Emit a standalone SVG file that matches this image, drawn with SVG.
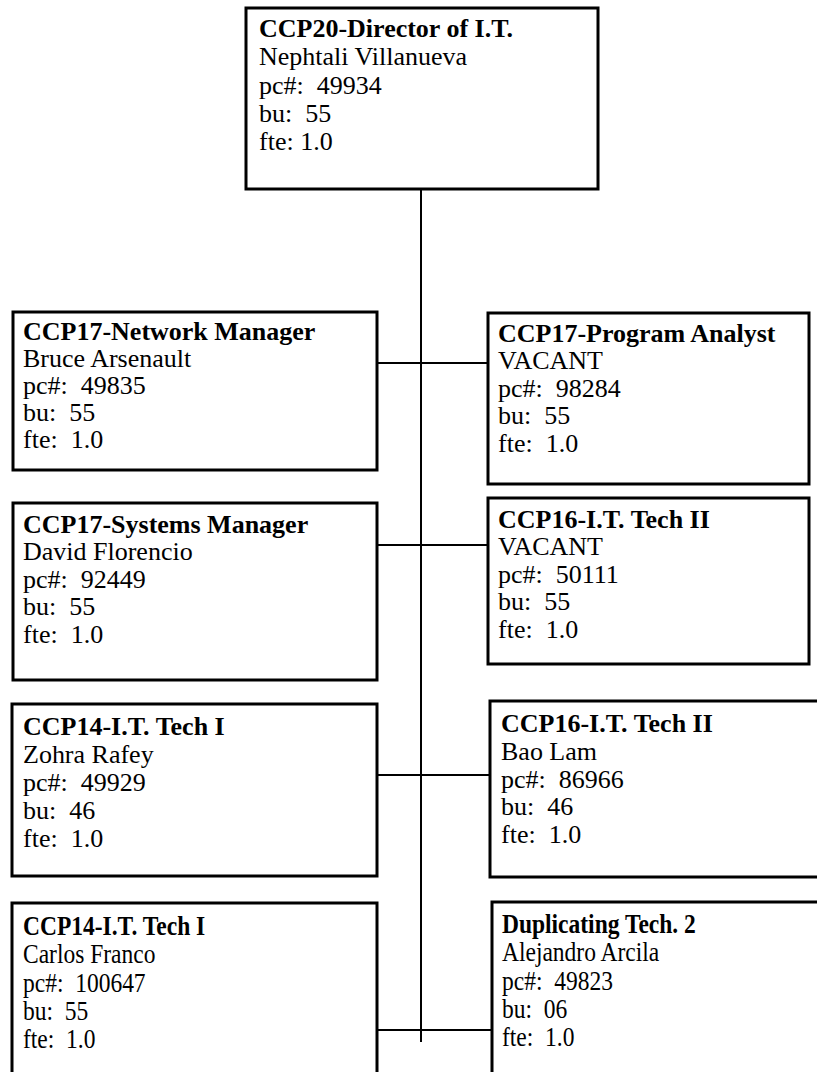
<svg xmlns="http://www.w3.org/2000/svg" width="817" height="1072" viewBox="0 0 817 1072">
<style>
.box{fill:#fff;stroke:#000;stroke-width:3}
.conn{stroke:#000;stroke-width:2;fill:none}
text{font-family:"Liberation Serif","Times New Roman",serif;font-size:25px;fill:#000;white-space:pre}
.t{font-weight:bold}
.tall{font-size:27px}
</style>
<g id="connectors">
<line class="conn" x1="421" y1="189" x2="421" y2="1042"/>
<line class="conn" x1="377" y1="363" x2="488" y2="363"/>
<line class="conn" x1="377" y1="545" x2="488" y2="545"/>
<line class="conn" x1="377" y1="775" x2="490" y2="775"/>
<line class="conn" x1="377" y1="1030" x2="492" y2="1030"/>
</g>
<g id="n-director">
<rect class="box" x="246" y="8" width="352" height="181"/>
<text xml:space="preserve" transform="translate(259,37) scale(1.04,1)"><tspan class="t" x="0">CCP20-Director of I.T.</tspan><tspan x="0" dy="28.3">Nephtali Villanueva</tspan><tspan x="0" dy="28.3">pc#:  49934</tspan><tspan x="0" dy="28.3">bu:  55</tspan><tspan x="0" dy="28.3">fte: 1.0</tspan></text>
</g>
<g id="n-network">
<rect class="box" x="13" y="312" width="364" height="158"/>
<text xml:space="preserve" transform="translate(23,340) scale(1.04,1)"><tspan class="t" x="0">CCP17-Network Manager</tspan><tspan x="0" dy="27">Bruce Arsenault</tspan><tspan x="0" dy="27">pc#:  49835</tspan><tspan x="0" dy="27">bu:  55</tspan><tspan x="0" dy="27">fte:  1.0</tspan></text>
</g>
<g id="n-analyst">
<rect class="box" x="488" y="313" width="321" height="171"/>
<text xml:space="preserve" transform="translate(498,342) scale(1.04,1)"><tspan class="t" x="0">CCP17-Program Analyst</tspan><tspan x="0" dy="27.5">VACANT</tspan><tspan x="0" dy="27.5">pc#:  98284</tspan><tspan x="0" dy="27.5">bu:  55</tspan><tspan x="0" dy="27.5">fte:  1.0</tspan></text>
</g>
<g id="n-systems">
<rect class="box" x="13" y="503" width="364" height="177"/>
<text xml:space="preserve" transform="translate(23,533) scale(1.04,1)"><tspan class="t" x="0">CCP17-Systems Manager</tspan><tspan x="0" dy="27.5">David Florencio</tspan><tspan x="0" dy="27.5">pc#:  92449</tspan><tspan x="0" dy="27.5">bu:  55</tspan><tspan x="0" dy="27.5">fte:  1.0</tspan></text>
</g>
<g id="n-tech2a">
<rect class="box" x="488" y="498" width="321" height="166"/>
<text xml:space="preserve" transform="translate(498,528) scale(1.04,1)"><tspan class="t" x="0">CCP16-I.T. Tech II</tspan><tspan x="0" dy="27.5">VACANT</tspan><tspan x="0" dy="27.5">pc#:  50111</tspan><tspan x="0" dy="27.5">bu:  55</tspan><tspan x="0" dy="27.5">fte:  1.0</tspan></text>
</g>
<g id="n-tech1a">
<rect class="box" x="12" y="704" width="365" height="172"/>
<text xml:space="preserve" transform="translate(23,735) scale(1.04,1)"><tspan class="t" x="0">CCP14-I.T. Tech I</tspan><tspan x="0" dy="28">Zohra Rafey</tspan><tspan x="0" dy="28">pc#:  49929</tspan><tspan x="0" dy="28">bu:  46</tspan><tspan x="0" dy="28">fte:  1.0</tspan></text>
</g>
<g id="n-tech2b">
<rect class="box" x="490" y="701" width="340" height="176"/>
<text xml:space="preserve" transform="translate(501,732) scale(1.04,1)"><tspan class="t" x="0">CCP16-I.T. Tech II</tspan><tspan x="0" dy="27.8">Bao Lam</tspan><tspan x="0" dy="27.8">pc#:  86966</tspan><tspan x="0" dy="27.8">bu:  46</tspan><tspan x="0" dy="27.8">fte:  1.0</tspan></text>
</g>
<g id="n-tech1b">
<rect class="box" x="12" y="903" width="365" height="190"/>
<text class="tall" xml:space="preserve" transform="translate(23,935) scale(0.87,1)"><tspan class="t" x="0">CCP14-I.T. Tech I</tspan><tspan x="0" dy="28.3">Carlos Franco</tspan><tspan x="0" dy="28.3">pc#:  100647</tspan><tspan x="0" dy="28.3">bu:  55</tspan><tspan x="0" dy="28.3">fte:  1.0</tspan></text>
</g>
<g id="n-dup">
<rect class="box" x="492" y="902" width="340" height="190"/>
<text class="tall" xml:space="preserve" transform="translate(502,933) scale(0.87,1)"><tspan class="t" x="0">Duplicating Tech. 2</tspan><tspan x="0" dy="28.3">Alejandro Arcila</tspan><tspan x="0" dy="28.3">pc#:  49823</tspan><tspan x="0" dy="28.3">bu:  06</tspan><tspan x="0" dy="28.3">fte:  1.0</tspan></text>
</g>
</svg>
